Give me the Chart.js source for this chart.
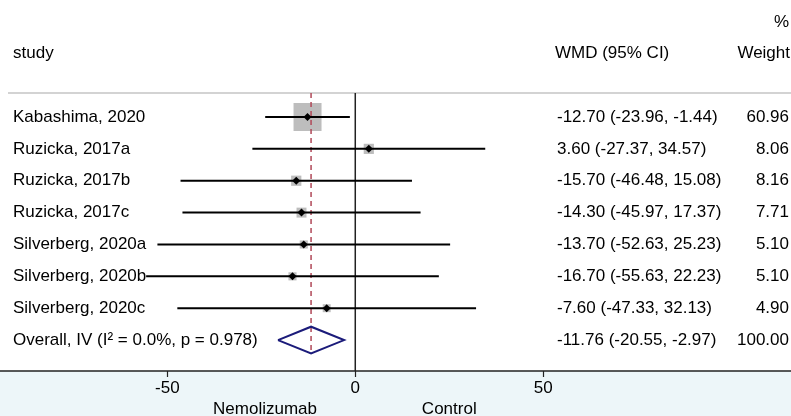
<!DOCTYPE html>
<html lang="en">
<head>
<meta charset="UTF-8">
<title>Forest plot</title>
<style>
  body { margin: 0; background: #fff; }
  #wrap { width: 791px; height: 416px; }
</style>
</head>
<body>
<div id="wrap"><canvas id="myChart"></canvas></div>

<script src="https://cdn.jsdelivr.net/npm/chart.js"></script>
<script>
    // data
    let v_study = ['Kabashima, 2020', 'Ruzicka, 2017a', 'Ruzicka, 2017b', 'Ruzicka, 2017c',
        'Silverberg, 2020a', 'Silverberg, 2020b', 'Silverberg, 2020c'];
    let v_wmd = [-12.70, 3.60, -15.70, -14.30, -13.70, -16.70, -7.60];
    let v_lo = [-23.96, -27.37, -46.48, -45.97, -52.63, -55.63, -47.33];
    let v_hi = [-1.44, 34.57, 15.08, 17.37, 25.23, 22.23, 32.13];
    let v_weight = [60.96, 8.06, 8.16, 7.71, 5.10, 5.10, 4.90];

    let v_overallLabel = 'Overall, IV (I\u00B2 = 0.0%, p = 0.978)';
    let v_overall = [-11.76, -20.55, -2.97];   // est, lo, hi
    let v_overallWeight = 100.00;

    let v_ticks = [-50, 0, 50];
    let v_sideLabels = ['Nemolizumab', 'Control'];
    let v_sidePos = [-24, 25];

    const FONT = '17px "Liberation Sans", Arial, sans-serif';
    const nRows = v_study.length;          // overall row index
    const yTop = -0.753, yBottom = 7.97;

    function f_fmt(v) { return v.toFixed(2); }

    let v_datasets = [];

    // weight boxes
    v_datasets.push({
        data: v_study.map((s, i) => ({ x: v_wmd[i], y: i })),
        pointStyle: 'rect',
        pointRadius: v_weight.map(w => 28 * Math.sqrt(w / v_weight[0]) / 1.414),
        backgroundColor: '#bdbdbd',
        borderWidth: 0,
        order: 6
    });

    // zero line
    v_datasets.push({
        data: [{ x: 0, y: yTop }, { x: 0, y: yBottom }],
        showLine: true, pointRadius: 0,
        borderColor: '#222', borderWidth: 1.5,
        order: 5
    });

    // overall dashed line
    v_datasets.push({
        data: [{ x: v_overall[0], y: yTop }, { x: v_overall[0], y: nRows + 0.42 }],
        showLine: true, pointRadius: 0,
        borderColor: '#b04858', borderWidth: 1.5, borderDash: [5, 4],
        order: 4
    });

    // confidence intervals
    for (let i = 0; i < nRows; i++) {
        v_datasets.push({
            data: [{ x: v_lo[i], y: i }, { x: v_hi[i], y: i }],
            showLine: true, pointRadius: 0,
            borderColor: '#000', borderWidth: 2,
            order: 3
        });
    }

    // overall diamond
    v_datasets.push({
        data: [
            { x: v_overall[1], y: nRows },
            { x: v_overall[0], y: nRows - 0.42 },
            { x: v_overall[2], y: nRows },
            { x: v_overall[0], y: nRows + 0.42 },
            { x: v_overall[1], y: nRows }
        ],
        showLine: true, pointRadius: 0, tension: 0,
        borderColor: '#1b1b7a', borderWidth: 2,
        order: 2
    });

    // point estimates
    v_datasets.push({
        data: v_study.map((s, i) => ({ x: v_wmd[i], y: i })),
        pointStyle: 'rectRot',
        pointRadius: 4,
        backgroundColor: '#000',
        borderWidth: 0,
        order: 1
    });

    const decor = {
        id: 'decor',
        beforeDatasetsDraw(chart) {
            const c = chart.ctx, a = chart.chartArea, W = chart.width, H = chart.height;
            c.save();
            c.fillStyle = '#edf6f9';
            c.fillRect(0, a.bottom, W, H - a.bottom);
            c.strokeStyle = '#c4c4c4';
            c.lineWidth = 1.5;
            c.beginPath(); c.moveTo(8, a.top); c.lineTo(W, a.top); c.stroke();
            c.restore();
        },
        afterDraw(chart) {
            const c = chart.ctx, a = chart.chartArea, W = chart.width;
            const xs = chart.scales.x, ys = chart.scales.y;
            c.save();
            // axis
            c.strokeStyle = '#222';
            c.lineWidth = 1.5;
            c.beginPath(); c.moveTo(0, a.bottom); c.lineTo(W, a.bottom); c.stroke();
            c.lineWidth = 1.2;
            v_ticks.forEach(t => {
                const px = Math.round(xs.getPixelForValue(t)) + 0.5;
                c.beginPath(); c.moveTo(px, a.bottom); c.lineTo(px, a.bottom + 6); c.stroke();
            });

            c.fillStyle = '#000';
            c.font = FONT;
            c.textBaseline = 'middle';
            c.textAlign = 'center';
            v_ticks.forEach(t => c.fillText(String(t), xs.getPixelForValue(t), a.bottom + 17));
            v_sideLabels.forEach((s, i) => c.fillText(s, xs.getPixelForValue(v_sidePos[i]), a.bottom + 38));

            // headers
            c.textAlign = 'left';
            c.fillText('study', 13, ys.getPixelForValue(-2));
            c.fillText('WMD (95% CI)', 555, ys.getPixelForValue(-2));
            c.textAlign = 'right';
            c.fillText('%', 789, ys.getPixelForValue(-2.98));
            c.fillText('Weight', 790, ys.getPixelForValue(-2));

            // rows
            for (let i = 0; i < nRows; i++) {
                const y = ys.getPixelForValue(i);
                c.textAlign = 'left';
                c.fillText(v_study[i], 13, y);
                c.fillText(f_fmt(v_wmd[i]) + ' (' + f_fmt(v_lo[i]) + ', ' + f_fmt(v_hi[i]) + ')', 557, y);
                c.textAlign = 'right';
                c.fillText(f_fmt(v_weight[i]), 789, y);
            }
            const yo = ys.getPixelForValue(nRows);
            c.textAlign = 'left';
            c.fillText(v_overallLabel, 13, yo);
            c.fillText(f_fmt(v_overall[0]) + ' (' + f_fmt(v_overall[1]) + ', ' + f_fmt(v_overall[2]) + ')', 557, yo);
            c.textAlign = 'right';
            c.fillText(f_fmt(v_overallWeight), 789, yo);
            c.restore();
        }
    };

    const ctx = document.getElementById('myChart');

    new Chart(ctx, {
        type: 'scatter',
        data: { datasets: v_datasets },
        options: {
            responsive: true,
            maintainAspectRatio: false,
            animation: false,
            layout: { autoPadding: false, padding: { top: 93, bottom: 45, left: 0, right: 0 } },
            scales: {
                x: { type: 'linear', min: -94.5, max: 115.9, display: false },
                y: { type: 'linear', min: yTop, max: yBottom, reverse: true, display: false }
            },
            plugins: {
                legend: { display: false },
                tooltip: { enabled: false }
            }
        },
        plugins: [decor]
    });
</script>
</body>
</html>
